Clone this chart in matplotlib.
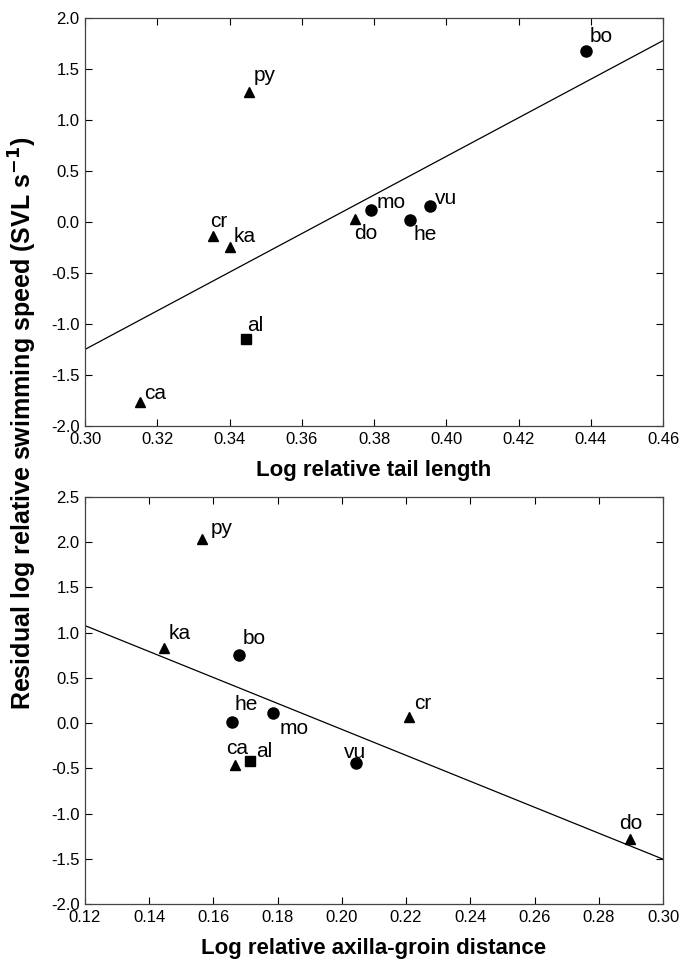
import matplotlib
matplotlib.use("Agg")
import matplotlib.pyplot as plt
import numpy as np

plt.rcParams['font.family'] = ['Liberation Sans', 'DejaVu Sans']

# top panel: tail length
tail_x = [0.4387, 0.3454, 0.3791, 0.3955, 0.3900, 0.3746, 0.3354, 0.3400, 0.3445, 0.3153]
tail_y = [1.673, 1.272, 0.113, 0.155, 0.021, 0.030, -0.139, -0.243, -1.151, -1.762]
tail_names = ['bo', 'py', 'mo', 'vu', 'he', 'do', 'cr', 'ka', 'al', 'ca']
tail_line_x = [0.30, 0.46]
tail_line_y = [-1.249, 1.778]

# bottom panel: axilla-groin distance
ag_x = [0.1564, 0.1447, 0.1680, 0.1657, 0.1786, 0.2208, 0.1667, 0.1713, 0.2045, 0.2898]
ag_y = [2.033, 0.828, 0.748, 0.009, 0.112, 0.064, -0.465, -0.424, -0.439, -1.277]
ag_names = ['py', 'ka', 'bo', 'he', 'mo', 'cr', 'ca', 'al', 'vu', 'do']
ag_line_x = [0.12, 0.30]
ag_line_y = [1.078, -1.504]

# marker type per species
shape = {'bo': 'o', 'mo': 'o', 'vu': 'o', 'he': 'o',
         'py': '^', 'do': '^', 'cr': '^', 'ka': '^', 'ca': '^',
         'al': 's'}
msize = {'o': 8, '^': 6.5, 's': 7}

# label offsets in pixels (dx, dy, va)
tail_off = {'bo': (4, 5, 'bottom'), 'py': (5, 7, 'bottom'), 'mo': (6, -2, 'bottom'),
            'vu': (5, -2, 'bottom'), 'he': (3, -5, 'top'), 'do': (0, -5, 'top'),
            'cr': (-3, 5, 'bottom'), 'ka': (4, 1, 'bottom'), 'al': (1, 4, 'bottom'),
            'ca': (4, -1, 'bottom')}
ag_off = {'py': (9, 1, 'bottom'), 'ka': (4, 5, 'bottom'), 'bo': (4, 7, 'bottom'),
          'he': (3, 8, 'bottom'), 'mo': (6, -6, 'top'), 'cr': (5, 4, 'bottom'),
          'ca': (-9, 7, 'bottom'), 'al': (6, 0, 'bottom'), 'vu': (-12, 1, 'bottom'),
          'do': (-11, 6, 'bottom')}


def draw_panel(ax, xs, ys, names, lx, ly, offs, xlim, ylim, xticks, yticks, xlabel):
    ax.plot(lx, ly, color='black', lw=0.9)
    for x, y, n in zip(xs, ys, names):
        m = shape[n]
        ax.plot(x, y, marker=m, ms=msize[m], color='black', ls='none')
        dx, dy, va = offs[n]
        ax.annotate(n, (x, y), xytext=(dx, dy), textcoords='offset pixels',
                    ha='left', va=va, fontsize=15)
    ax.set_xlim(*xlim)
    ax.set_ylim(*ylim)
    ax.set_xticks(xticks)
    ax.set_yticks(yticks)
    ax.set_xticklabels([f"{t:.2f}" for t in xticks])
    ax.set_yticklabels([f"{t:.1f}" for t in yticks])
    ax.tick_params(direction='in', length=5, width=0.8, top=True, right=True,
                   labelsize=12, pad=4)
    for s in ax.spines.values():
        s.set_color('#444444')
        s.set_linewidth(0.9)
    ax.set_xlabel(xlabel, fontsize=16, fontweight='bold', labelpad=10)


fig = plt.figure(figsize=(6.84, 9.61), dpi=100)
ax1 = fig.add_axes([0.1243, 0.5567, 0.845, 0.4246])
ax2 = fig.add_axes([0.1243, 0.0593, 0.845, 0.4235])

draw_panel(ax1, tail_x, tail_y, tail_names, tail_line_x, tail_line_y, tail_off,
           (0.30, 0.46), (-2.0, 2.0), np.arange(0.30, 0.4601, 0.02),
           np.arange(-2.0, 2.01, 0.5), "Log relative tail length")
draw_panel(ax2, ag_x, ag_y, ag_names, ag_line_x, ag_line_y, ag_off,
           (0.12, 0.30), (-2.0, 2.5), np.arange(0.12, 0.3001, 0.02),
           np.arange(-2.0, 2.51, 0.5), "Log relative axilla-groin distance")

fig.text(0.034, 0.559, "Residual log relative swimming speed (SVL s$^{\\mathbf{-1}}$)",
         rotation=90, ha='center', va='center', fontsize=18, fontweight='bold')

fig.savefig("out.png", dpi=100)
